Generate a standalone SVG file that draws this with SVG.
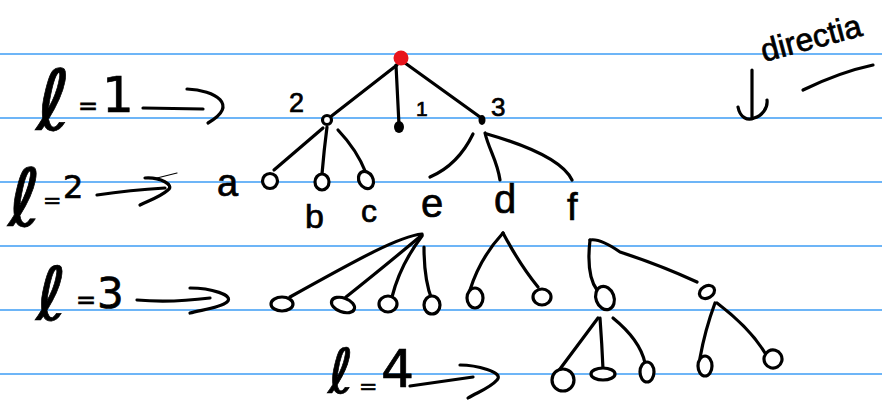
<svg xmlns="http://www.w3.org/2000/svg" width="882" height="410" viewBox="0 0 882 410">
<style>
.rule{stroke:#3d9df5;stroke-width:1.5}
.ink{fill:none;stroke:#000;stroke-width:3.2;stroke-linecap:round;stroke-linejoin:round}
.thin{fill:none;stroke:#000;stroke-width:1.2;stroke-linecap:round}
.nd{fill:#fff;stroke:#000;stroke-width:3.2}
.dot{fill:#000}
.t{font-family:"Liberation Sans","DejaVu Sans",sans-serif;fill:#000;stroke:#000;stroke-width:0.7}
.s{font-family:"DejaVu Sans","Liberation Sans",sans-serif}
</style>
<rect width="882" height="410" fill="#fff"/>
<g id="rules">
<line class="rule" x1="0" y1="54" x2="882" y2="54"/>
<line class="rule" x1="0" y1="118" x2="882" y2="118"/>
<line class="rule" x1="0" y1="182" x2="882" y2="182"/>
<line class="rule" x1="0" y1="246" x2="882" y2="246"/>
<line class="rule" x1="0" y1="310" x2="882" y2="310"/>
<line class="rule" x1="0" y1="374" x2="882" y2="374"/>
</g>
<g id="connectors">
<path class="ink" d="M397,65 L329,118"/>
<path class="ink" d="M396,65 L399,125"/>
<path class="ink" d="M405,63 L480,117"/>
<path class="ink" d="M323,128 L274,170"/>
<path class="ink" d="M327,127 Q324,150 322,174"/>
<path class="ink" d="M338,130 Q357,150 366,173"/>
<path class="ink" d="M473,134 Q458,165 430,177"/>
<path class="ink" d="M485,133 C489,150 497,160 500,180"/>
<path class="ink" d="M487,134 Q560,155 572,180"/>
<path class="ink" d="M422,234 C400,236 360,258 290,297"/>
<path class="ink" d="M422,235 Q380,270 346,297"/>
<path class="ink" d="M422,236 Q400,265 392,297"/>
<path class="ink" d="M424,247 Q424,280 432,300"/>
<path class="ink" d="M503,233 Q480,258 470,290"/>
<path class="ink" d="M503,233 Q520,265 538,287"/>
<path class="ink" d="M590,240 Q586,275 597,290"/>
<path class="ink" d="M590,240 Q600,238 620,252 Q660,265 697,282"/>
<path class="ink" d="M598,318 L557,373"/>
<path class="ink" d="M600,318 Q602,345 603,369"/>
<path class="ink" d="M613,318 Q640,340 645,363"/>
<path class="ink" d="M715,303 Q705,330 700,358"/>
<path class="ink" d="M717,303 Q750,328 765,353"/>
<path class="ink" d="M143,108 L203,109"/>
<path class="ink" d="M187,89 C215,90 240,105 208,123"/>
<path class="ink" d="M97,195 Q130,190 165,188"/>
<path class="ink" d="M145,178 C160,177 175,185 168,190 C160,197 150,200 140,205"/>
<path class="thin" d="M157,178 L177,173"/>
<path class="ink" d="M137,300 Q170,303 210,298"/>
<path class="ink" d="M190,288 C210,288 235,295 227,302 C220,308 200,310 190,313"/>
<path class="ink" d="M410,386 L473,377"/>
<path class="ink" d="M460,365 C475,365 505,372 497,380 C490,388 478,392 468,398"/>
</g>
<g id="root"><circle cx="401" cy="58" r="7.5" fill="#e8141c"/></g>
<g id="n2"><circle class="nd" cx="327" cy="120" r="4.5"/><text class="t" x="289" y="112" font-size="27">2</text></g>
<g id="n1"><ellipse class="dot" cx="399" cy="127" rx="5" ry="6"/><text class="t" x="416" y="116" font-size="21">1</text></g>
<g id="n3"><ellipse class="dot" cx="482" cy="120" rx="3.5" ry="5"/><text class="t" x="491" y="116" font-size="26">3</text></g>
<g id="na"><circle class="nd" cx="270" cy="181" r="7.5"/><text class="t" x="217" y="196" font-size="38">a</text></g>
<g id="nb"><ellipse class="nd" cx="322" cy="182" rx="7" ry="8"/><text class="t" x="305" y="228" font-size="34">b</text></g>
<g id="nc"><ellipse class="nd" cx="366" cy="180" rx="7" ry="9" transform="rotate(-30 366 180)"/><text class="t" x="361" y="222" font-size="32">c</text></g>
<g id="ne"><text class="t" x="421" y="217" font-size="40">e</text></g>
<g id="nd"><text class="t" x="494" y="213" font-size="40">d</text></g>
<g id="nf"><text class="t" x="567" y="220" font-size="38">f</text></g>
<g id="e1"><ellipse class="nd" cx="282" cy="304" rx="11" ry="7"/></g>
<g id="e2"><ellipse class="nd" cx="343" cy="305" rx="12" ry="7" transform="rotate(20 343 305)"/></g>
<g id="e3"><ellipse class="nd" cx="388" cy="304" rx="9" ry="8"/></g>
<g id="e4"><ellipse class="nd" cx="432" cy="305" rx="8" ry="9"/></g>
<g id="d1"><ellipse class="nd" cx="475" cy="298" rx="8" ry="10"/></g>
<g id="d2"><ellipse class="nd" cx="542" cy="297" rx="9" ry="8"/></g>
<g id="f1"><ellipse class="nd" cx="605" cy="298" rx="9" ry="12" transform="rotate(-20 605 298)"/></g>
<g id="f2"><ellipse class="nd" cx="707" cy="292" rx="8" ry="6" transform="rotate(-30 707 292)"/></g>
<g id="g1"><ellipse class="nd" cx="563" cy="380" rx="11" ry="11"/></g>
<g id="g2"><ellipse class="nd" cx="603" cy="374" rx="12" ry="6"/></g>
<g id="g3"><ellipse class="nd" cx="647" cy="372" rx="7" ry="10"/></g>
<g id="g4"><ellipse class="nd" cx="705" cy="366" rx="7" ry="10"/></g>
<g id="g5"><ellipse class="nd" cx="773" cy="359" rx="9" ry="9" transform="rotate(-30 773 359)"/></g>
<g id="l1"><text class="t s"><tspan x="36" y="130" font-size="84">ℓ</tspan><tspan x="78" y="114" font-size="24">=</tspan><tspan x="102" y="112" font-size="50">1</tspan></text></g>
<g id="l2"><text class="t s"><tspan x="8" y="226" font-size="80">ℓ</tspan><tspan x="43" y="208" font-size="22">=</tspan><tspan x="63" y="198" font-size="32">2</tspan></text></g>
<g id="l3"><text class="t s"><tspan x="36" y="320" font-size="74">ℓ</tspan><tspan x="76" y="308" font-size="24">=</tspan><tspan x="97" y="308" font-size="42">3</tspan></text></g>
<g id="l4"><text class="t s"><tspan x="328" y="393" font-size="62">ℓ</tspan><tspan x="359" y="394" font-size="22">=</tspan><tspan x="381" y="387" font-size="52">4</tspan></text></g>
<g id="direction">
<path class="ink" d="M752,70 L752,117"/>
<path class="ink" d="M738,107 C740,118 748,121 754,118 C762,116 768,108 767,100"/>
<path class="ink" d="M803,90 Q840,72 873,65"/>
<text class="t" x="0" y="0" font-size="32" transform="translate(764 62) rotate(-15)">directia</text>
</g>
</svg>
